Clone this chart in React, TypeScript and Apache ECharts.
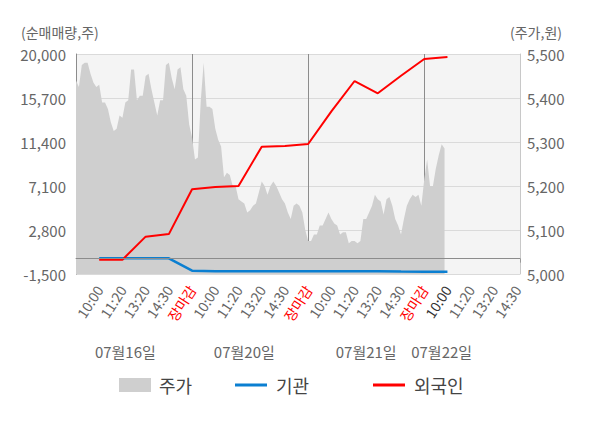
import React, { useEffect, useRef } from "react";
import * as echarts from "echarts";

// x-axis tick labels (one every SLOTS categories)
const tickLabels = [
  "10:00", "11:20", "13:20", "14:30", "장마감",
  "10:00", "11:20", "13:20", "14:30", "장마감",
  "10:00", "11:20", "13:20", "14:30", "장마감",
  "10:00", "11:20", "13:20", "14:30",
];
const dateLabels = ["07월16일", "07월20일", "07월21일", "07월22일"];

// 주가 (price, right axis), one value per category slot
const stockPrice = [
  5440, 5425, 5475, 5480, 5480, 5455, 5435, 5425, 5430, 5390,
  5390, 5375, 5345, 5325, 5330, 5360, 5355, 5390, 5395, 5465,
  5465, 5395, 5405, 5405, 5450, 5455, 5420, 5390, 5360, 5395,
  5395, 5475, 5480, 5445, 5420, 5465, 5470, 5420, 5405, 5340,
  5310,
  5260, 5265, 5395, 5480, 5380, 5380, 5375, 5330, 5305, 5290,
  5220, 5230, 5225, 5200, 5200, 5170, 5165, 5160, 5140, 5145,
  5155, 5160, 5185, 5210, 5200, 5180, 5200, 5210, 5200, 5185,
  5170, 5160, 5140, 5125, 5155, 5160, 5155, 5140, 5100, 5075,
  5075, 5090, 5090, 5110, 5110, 5125, 5140, 5125, 5115, 5110,
  5090, 5095, 5095, 5070, 5075, 5075, 5070, 5075, 5125, 5125,
  5140, 5155, 5180, 5170, 5165, 5135, 5170, 5175, 5155, 5125,
  5110, 5090, 5125, 5155, 5170, 5180, 5175, 5180, 5155, 5215,
  5260, 5200, 5200, 5240, 5270, 5295, 5285,
];

// cumulative net buying (left axis), one value per tick label from the first 10:00
const institution = [30, 30, 30, 30, -1180, -1220, -1220, -1220, -1220, -1220, -1220, -1220, -1220, -1260, -1280, -1280];
const foreign = [-100, -100, 2150, 2400, 6790, 7000, 7100, 10940, 11010, 11200, 14400, 17360, 16160, 17880, 19510, 19700];

// axis scales
const leftMin = -1500;
const leftMax = 20000;
const leftStep = 4300;
const rightMin = 5000;
const rightMax = 5500;
const rightStep = 100;

// layout constants
const SLOTS = 8;
const TOTAL = tickLabels.length * SLOTS + 2;
const dateLabelSlots = [17, 58, 100, 126];

const categories = Array.from({ length: TOTAL }, (_, i) => "s" + i);
const labelAt = (i: number) => (i > 0 && i % SLOTS === 0 ? tickLabels[i / SLOTS - 1] : null);
const boundaries = tickLabels
  .map((t, k) => (t === "장마감" ? (k + 1) * SLOTS : -1))
  .filter((v) => v >= 0);

const toSlots = (vals: number[]) => {
  const arr: (number | null)[] = new Array(TOTAL).fill(null);
  vals.forEach((v, k) => {
    arr[(k + 1) * SLOTS] = v;
  });
  return arr;
};

const fmt = (v: number) => v.toLocaleString("en-US");
const FONT = "'Noto Sans CJK KR', 'Noto Sans', sans-serif";

export default function App() {
  const ref = useRef<HTMLDivElement>(null);
  useEffect(() => {
    document.body.style.margin = "0";
    if (!ref.current) return;
    const chart = echarts.init(ref.current, undefined, { renderer: "svg" });
    const lastTen = 15; // tick index of latest "10:00"
    chart.setOption({
      animation: false,
      textStyle: { fontFamily: FONT },
      title: [
        { text: "(순매매량,주)", left: 21, top: 25, padding: 0, textStyle: { fontSize: 14, color: "#666", fontWeight: "normal", fontFamily: FONT } },
        { text: "(주가,원)", right: 38, top: 25, padding: 0, textStyle: { fontSize: 14, color: "#666", fontWeight: "normal", fontFamily: FONT } },
      ],
      legend: [
        {
          left: 114, top: 371, itemWidth: 32, itemHeight: 14, selectedMode: false,
          data: [{ name: "주가", icon: "rect" }],
          textStyle: { fontSize: 18, color: "#444", fontFamily: FONT, padding: [0, 0, 0, 3] },
        },
        {
          left: 230, top: 371, itemWidth: 32, itemHeight: 3, selectedMode: false,
          data: [{ name: "기관", icon: "rect" }],
          textStyle: { fontSize: 18, color: "#444", fontFamily: FONT, padding: [0, 0, 0, 4] },
        },
        {
          left: 368, top: 371, itemWidth: 32, itemHeight: 3, selectedMode: false,
          data: [{ name: "외국인", icon: "rect" }],
          textStyle: { fontSize: 18, color: "#444", fontFamily: FONT, padding: [0, 0, 0, 4] },
        },
      ],
      grid: {
        left: 76, right: 80, top: 54, bottom: 154,
        show: true, backgroundColor: "#f4f4f4", borderWidth: 0,
        containLabel: false, outerBoundsMode: "none",
      },
      xAxis: [
        {
          type: "category", data: categories, boundaryGap: false, position: "bottom",
          axisLine: { show: true, lineStyle: { color: "#999" } },
          axisTick: {
            show: true, length: 4, lineStyle: { color: "#999" },
            interval: (i: number) => i === 0 || i === TOTAL - 1 || boundaries.includes(i),
          },
          splitLine: {
            show: true, lineStyle: { color: "#8c8c8c", width: 1 },
            interval: (i: number) => boundaries.includes(i),
          },
          axisLabel: {
            interval: (i: number) => labelAt(i) !== null,
            rotate: 57, margin: 13, fontSize: 14, color: "#666", fontFamily: FONT,
            formatter: (_v: string, i: number) => {
              const t = labelAt(i);
              if (t === null) return "";
              if (t === "장마감") return "{close|" + t + "}";
              if (i === (lastTen + 1) * SLOTS) return "{now|" + t + "}";
              return t;
            },
            rich: {
              close: { color: "#ff0000", fontSize: 14, fontFamily: FONT },
              now: { color: "#333", fontSize: 14, fontFamily: FONT },
            },
          },
        },
        {
          type: "category", data: categories, boundaryGap: false, position: "bottom",
          axisLine: { show: false }, axisTick: { show: false }, splitLine: { show: false },
          axisLabel: {
            interval: (i: number) => dateLabelSlots.includes(i),
            formatter: (_v: string, i: number) => {
              const k = dateLabelSlots.indexOf(i);
              return k >= 0 ? dateLabels[k] : "";
            },
            margin: 70, fontSize: 15, color: "#666", fontFamily: FONT,
          },
        },
      ],
      yAxis: [
        {
          type: "value", position: "left", min: leftMin, max: leftMax, interval: leftStep,
          axisLine: { show: true, lineStyle: { color: "#8c8c8c" } },
          axisTick: { show: false },
          splitLine: { show: true, lineStyle: { color: "#dadada" } },
          axisLabel: { formatter: fmt, fontSize: 15, color: "#666", margin: 10, fontFamily: FONT },
        },
        {
          type: "value", position: "right", min: rightMin, max: rightMax, interval: rightStep,
          axisLine: { show: true, lineStyle: { color: "#c8c8c8" } },
          axisTick: { show: false },
          splitLine: { show: false },
          axisLabel: { formatter: fmt, fontSize: 15, color: "#666", margin: 7, fontFamily: FONT },
        },
      ],
      series: [
        {
          name: "주가", type: "line", xAxisIndex: 0, yAxisIndex: 1, data: stockPrice,
          showSymbol: false, symbol: "none", silent: true, z: 1,
          itemStyle: { color: "#cfcfcf" },
          lineStyle: { width: 0, color: "#cfcfcf" },
          areaStyle: { color: "#cfcfcf", opacity: 1, origin: "start" },
        },
        {
          name: "기관", type: "line", xAxisIndex: 0, yAxisIndex: 0, data: toSlots(institution),
          connectNulls: true, showSymbol: false, symbol: "none", z: 3,
          itemStyle: { color: "#0b7fd1" },
          lineStyle: { width: 2.5, color: "#0b7fd1" },
          markLine: {
            silent: true, symbol: ["none", "none"], label: { show: false },
            lineStyle: { color: "#8c8c8c", width: 1, type: "solid" },
            data: [{ yAxis: 0 }],
          },
        },
        {
          name: "외국인", type: "line", xAxisIndex: 0, yAxisIndex: 0, data: toSlots(foreign),
          connectNulls: true, showSymbol: false, symbol: "none", z: 4,
          itemStyle: { color: "#ff0000" },
          lineStyle: { width: 2, color: "#ff0000" },
        },
      ],
    });
    return () => chart.dispose();
  }, []);
  return <div ref={ref} style={{ width: 600, height: 428 }} />;
}
